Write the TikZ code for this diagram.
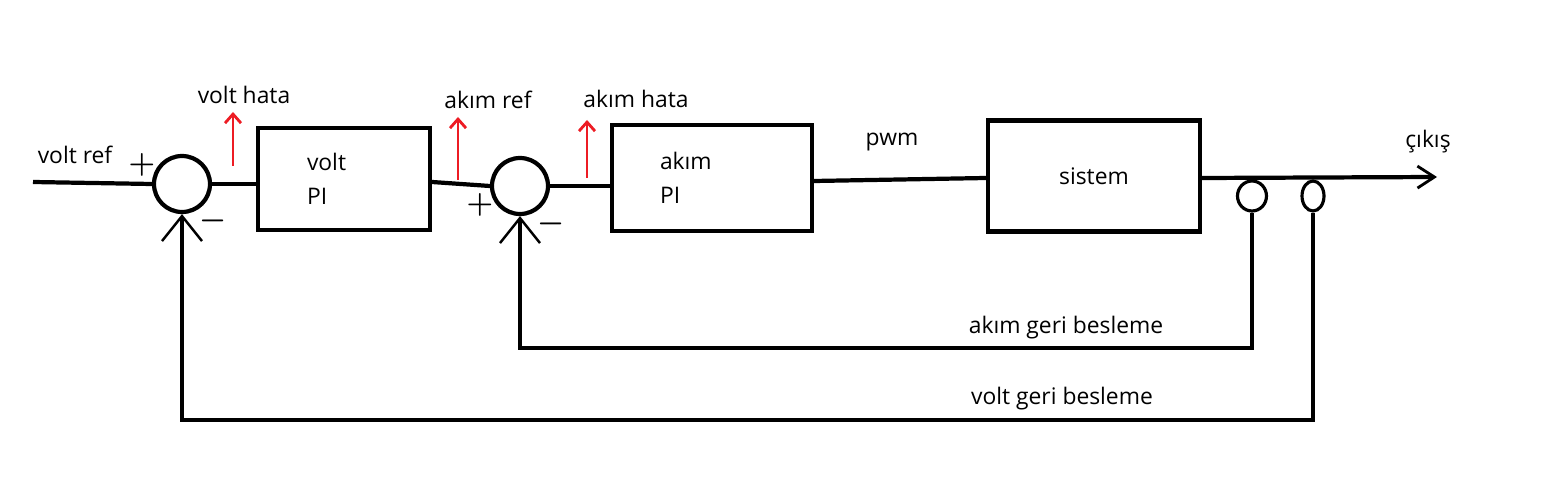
\documentclass[tikz,border=0pt]{standalone}
\usepackage{fontspec}
\setmainfont{Open Sans}
\usepackage{xcolor}
\usetikzlibrary{arrows.meta, shapes.geometric}
\definecolor{kirmizi}{RGB}{237,28,36}

\begin{document}
\begin{tikzpicture}[x=0.02cm, y=-0.02cm, font=\fontsize{13}{19}\selectfont,
    blok/.style={draw, line width=2.4pt, align=left, inner ysep=0pt},
    toplam/.style={draw, circle, line width=2.4pt, minimum size=1.12cm, inner sep=0pt},
    ayir/.style={draw, ellipse, line width=1.8pt, minimum height=0.6cm, inner sep=0pt},
    hat/.style={line width=2.4pt},
    geri/.style={line width=2.4pt, -{Straight Barb[length=0.5cm, width=0.8cm, line width=1.4pt]}},
    isaret/.style={kirmizi, line width=1.6pt, -{Straight Barb[length=0.18cm, width=0.32cm]}},
    isaretci/.style={font=\fontsize{17}{17}\selectfont\boldmath, inner sep=0pt}]
    \useasboundingbox (0,0) rectangle (1543,489);

    % toplama noktalari ve bloklar
    \node[toplam] (top1) at (182,184) {};
    \node[toplam] (top2) at (520,186) {};
    \node[blok, minimum width=3.44cm, minimum height=2.04cm, text width=1.48cm, inner xsep=0.98cm] (voltpi) at (344,179) {volt\\PI};
    \node[blok, minimum width=4cm, minimum height=2.12cm, text width=2.08cm, inner xsep=0.96cm] (akimpi) at (712,178) {akım\\PI};
    \node[blok, minimum width=4.24cm, minimum height=2.22cm, align=center] (sistem) at (1094,176) {sistem};
    \node[ayir, minimum width=0.58cm] (ayir1) at (1252,196) {};
    \node[ayir, minimum width=0.44cm] (ayir2) at (1313,196) {};

    \coordinate (vref) at (33,182);
    \coordinate (cikis) at (1437,177);
    \coordinate (akimalt) at (1257,348);
    \coordinate (voltalt) at (1325,420);

    % ileri yol
    \draw[hat] (vref) -- (top1.west);
    \draw[hat] (top1.east) -- (voltpi.west |- top1.east);
    \draw[hat] (voltpi.east |- 0,182) -- (top2.west);
    \draw[hat] (top2.east) -- (akimpi.west |- top2.east);
    \draw[hat] (akimpi.east |- 0,181) -- (sistem.west |- 0,178);
    \draw[hat, -{Straight Barb[length=0.34cm, width=0.44cm, line width=1.6pt]}] (sistem.east |- 0,178) -- (cikis);

    % geri besleme
    \draw[geri] (ayir1.south) -- (ayir1.south |- akimalt) -| (top2.south);
    \draw[geri] (ayir2.south) -- (ayir2.south |- voltalt) -| (top1.south);

    % isaretler
    \node[isaretci] (arti1) at (142,165) {$+$};
    \node[isaretci] (eksi1) at (213,221) {$-$};
    \node[isaretci] (arti2) at (480,205) {$+$};
    \node[isaretci] (eksi2) at (551,224) {$-$};

    % kirmizi oklar
    \coordinate (vh0) at (233,166);
    \coordinate (vh1) at (233,112);
    \coordinate (ar0) at (458,180);
    \coordinate (ar1) at (458,117);
    \coordinate (ah0) at (587,178);
    \coordinate (ah1) at (587,120);
    \draw[isaret] (vh0) -- (vh1);
    \draw[isaret] (ar0) -- (ar1);
    \draw[isaret] (ah0) -- (ah1);

    % yazilar
    \node (vreftxt) at (75,155) {volt ref};
    \node (vhata) at (244,95) {volt hata};
    \node (aref) at (488,100) {akım ref};
    \node (ahata) at (636,99) {akım hata};
    \node (pwm) at (892,142) {pwm};
    \node (cikistxt) at (1428,142) {çıkış};
    \node (akimgb) at (1066,328) {akım geri besleme};
    \node (voltgb) at (1062,399) {volt geri besleme};
\end{tikzpicture}
\end{document}
